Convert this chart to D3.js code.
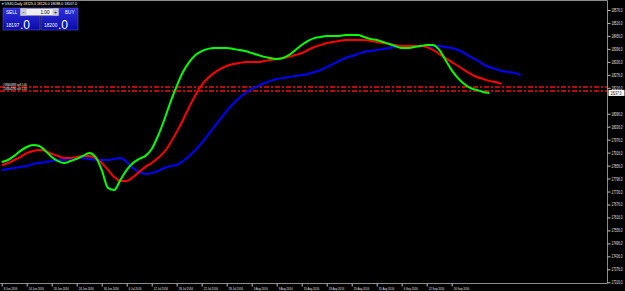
<!DOCTYPE html>
<html>
<head>
<meta charset="utf-8">
<script src="https://cdnjs.cloudflare.com/ajax/libs/d3/7.8.5/d3.min.js"></script>
<style>
  body { margin: 0; background: #000; }
  svg { display: block; font-family: "Liberation Sans", sans-serif; }
</style>
</head>
<body>
<div id="chart"></div>
<script>
// Alligator lines (jaw / teeth / lips), one value per daily bar, shifted forward 8 / 5 / 3 bars
var jaw = [17836, 17840, 17845, 17850, 17854, 17864, 17868, 17873, 17877, 17882,
    17882, 17887, 17891, 17891, 17887, 17882, 17882, 17882, 17887, 17891,
    17873, 17845, 17827, 17817, 17822, 17831, 17845, 17854, 17859, 17877,
    17901, 17928, 17961, 17998, 18035, 18072, 18109, 18141, 18169, 18192,
    18211, 18224, 18238, 18248, 18257, 18261, 18266, 18271, 18275, 18280,
    18289, 18298, 18312, 18326, 18340, 18354, 18363, 18373, 18382, 18386,
    18391, 18396, 18400, 18405, 18405, 18409, 18409, 18409, 18409, 18409,
    18409, 18405, 18400, 18391, 18377, 18359, 18345, 18326, 18312, 18303,
    18294, 18289, 18285, 18275];
var teeth = [17859, 17868, 17882, 17896, 17914, 17924, 17928, 17924, 17910, 17901,
    17891, 17891, 17896, 17901, 17901, 17891, 17868, 17836, 17803, 17785,
    17785, 17803, 17827, 17850, 17868, 17891, 17919, 17961, 18012, 18067,
    18127, 18183, 18229, 18261, 18285, 18303, 18317, 18326, 18331, 18335,
    18335, 18335, 18340, 18345, 18349, 18354, 18359, 18368, 18377, 18391,
    18405, 18414, 18423, 18428, 18433, 18437, 18437, 18437, 18437, 18433,
    18428, 18423, 18419, 18414, 18409, 18409, 18409, 18409, 18405, 18391,
    18373, 18354, 18335, 18317, 18298, 18280, 18266, 18257, 18248, 18243,
    18234];
var lips = [17873, 17882, 17901, 17924, 17942, 17951, 17947, 17924, 17896, 17877,
    17868, 17877, 17887, 17901, 17914, 17896, 17836, 17753, 17743, 17790,
    17836, 17868, 17887, 17901, 17933, 17993, 18067, 18150, 18224, 18289,
    18335, 18368, 18386, 18396, 18400, 18400, 18400, 18396, 18391, 18386,
    18377, 18368, 18359, 18354, 18349, 18354, 18368, 18391, 18414, 18433,
    18446, 18451, 18456, 18456, 18456, 18460, 18460, 18460, 18451, 18442,
    18437, 18428, 18419, 18409, 18400, 18400, 18405, 18409, 18414, 18414,
    18391, 18345, 18298, 18261, 18234, 18215, 18206, 18197, 18192];

var dateLabels = ['8 Jun 2016', '14 Jun 2016', '20 Jun 2016', '24 Jun 2016', '30 Jun 2016',
    '6 Jul 2016', '12 Jul 2016', '18 Jul 2016', '22 Jul 2016', '28 Jul 2016',
    '3 Aug 2016', '9 Aug 2016', '15 Aug 2016', '19 Aug 2016', '25 Aug 2016',
    '31 Aug 2016', '6 Sep 2016', '12 Sep 2016', '16 Sep 2016'];
var dateEvery = 4; // one label every 4 bars

var priceTicks = [18576, 18516, 18456, 18396, 18336, 18276, 18216, 18096, 18036, 17976,
    17916, 17856, 17796, 17736, 17676, 17616, 17556, 17496, 17436, 17376, 17316];

var bid = 18197, ask = 18200;
var orderPrices = [18220, 18201];
var orderLabels = ['#18504393 sell 1.00', '#18504290 sell 1.00'];
var header = 'US30,Daily  18125.0 18126.0 18098.0 18107.0';

var W = 625, H = 291;
var plotRight = 607.5, plotBottom = 283.5;
var squeeze = 0.66; // terminal font is much narrower than the installed ones

var svg = d3.select('#chart').append('svg').attr('width', W).attr('height', H);
svg.append('rect').attr('width', W).attr('height', H).attr('fill', '#000');

var x = d3.scaleLinear().domain([0, 1]).range([1.7, 7.95]);
var y = d3.scaleLinear().domain([17316, 18576]).range([282.3, 10]);

// frame
svg.append('path')
    .attr('d', `M0,0.5 H${plotRight} V${plotBottom} H0`)
    .attr('fill', 'none')
    .attr('stroke', '#8c8c8c')
    .attr('stroke-width', 1);

// right price axis
var yAxis = svg.append('g')
    .attr('transform', `translate(${plotRight},0)`)
    .call(d3.axisRight(y).tickValues(priceTicks).tickSize(3)
        .tickFormat(d => d.toFixed(1)));
yAxis.select('.domain').remove();
yAxis.selectAll('line').attr('stroke', '#c0c0c0');
yAxis.selectAll('text')
    .attr('x', 0)
    .attr('transform', `translate(4,0) scale(${squeeze},1)`)
    .attr('fill', '#e0e0e0')
    .attr('font-size', 4.6)
    .attr('font-family', 'Liberation Sans');

// bottom date axis
var xAxis = svg.append('g')
    .attr('transform', `translate(0,${plotBottom})`)
    .call(d3.axisBottom(x).tickValues(dateLabels.map((d, i) => i * dateEvery))
        .tickSize(3).tickFormat((d, i) => dateLabels[i]));
xAxis.select('.domain').remove();
xAxis.selectAll('line').attr('stroke', '#c0c0c0');
xAxis.selectAll('text')
    .attr('x', 0)
    .attr('y', 0)
    .attr('dy', 0)
    .attr('transform', `translate(1.5,6.3) scale(${squeeze},1)`)
    .attr('fill', '#e0e0e0')
    .attr('font-size', 4.2)
    .attr('font-family', 'Liberation Sans')
    .attr('text-anchor', 'start');

// order lines
svg.selectAll('.order')
    .data(orderPrices)
    .enter()
    .append('line')
    .attr('class', 'order')
    .attr('x1', 0)
    .attr('x2', plotRight - 0.5)
    .attr('y1', d => Math.round(y(d)))
    .attr('y2', d => Math.round(y(d)))
    .attr('stroke', '#f01010')
    .attr('stroke-width', 1.4)
    .attr('stroke-dasharray', '5,2,2,2');

svg.selectAll('.orderLabel')
    .data(orderPrices)
    .enter()
    .append('text')
    .attr('transform', d => `translate(3,${y(d) - 1}) scale(${squeeze},1)`)
    .attr('fill', '#ffffff')
    .attr('font-size', 4)
    .text((d, i) => orderLabels[i]);

// alligator lines
var line = d3.line()
    .x((d, i) => x(i))
    .y(d => y(d))
    .curve(d3.curveMonotoneX);

var series = [
    { values: jaw, color: '#0000ff' },
    { values: teeth, color: '#ff0000' },
    { values: lips, color: '#00ff00' }
];

svg.selectAll('.ma')
    .data(series)
    .enter()
    .append('path')
    .attr('class', 'ma')
    .attr('d', s => line(s.values))
    .attr('fill', 'none')
    .attr('stroke', s => s.color)
    .attr('stroke-width', 2);

// bid label on the price axis
var by = y(bid);
svg.append('rect')
    .attr('x', plotRight + 1).attr('y', by - 2)
    .attr('width', 16).attr('height', 6)
    .attr('fill', '#ffffff');
svg.append('text')
    .attr('transform', `translate(${plotRight + 3},${by + 2.8}) scale(${squeeze},1)`)
    .attr('font-size', 4.6)
    .attr('fill', '#000')
    .text(bid.toFixed(1));

// header
svg.append('text')
    .attr('transform', 'translate(2,5) scale(0.8,1)')
    .attr('font-size', 4.4)
    .attr('fill', '#ffffff')
    .text('\u25BE ' + header);

// one-click trading panel
var grad = svg.append('defs').append('linearGradient')
    .attr('id', 'btn').attr('x1', 0).attr('x2', 0).attr('y1', 0).attr('y2', 1);
grad.append('stop').attr('offset', '0%').attr('stop-color', '#3030e0');
grad.append('stop').attr('offset', '100%').attr('stop-color', '#0a0aa8');

var panel = svg.append('g');
[[3, 'SELL', bid], [41, 'BUY', ask]].forEach(function (b) {
    panel.append('rect')
        .attr('x', b[0]).attr('y', 8)
        .attr('width', 37).attr('height', 22)
        .attr('fill', 'url(#btn)')
        .attr('stroke', '#5a5aff').attr('stroke-width', 0.5);
    panel.append('text')
        .attr('x', b[1] === 'SELL' ? b[0] + 3 : b[0] + 24).attr('y', 14)
        .attr('font-size', 4.6).attr('fill', '#ffffff')
        .text(b[1]);
    var whole = Math.floor(b[2]);
    panel.append('text')
        .attr('x', b[0] + 3).attr('y', 27)
        .attr('font-size', 4.8).attr('fill', '#ffffff')
        .text(whole);
    panel.append('text')
        .attr('x', b[0] + 17).attr('y', 28.5)
        .attr('font-size', 12).attr('fill', '#ffffff')
        .text('.' + Math.round((b[2] - whole) * 10));
});

// lot box
panel.append('rect').attr('x', 20.5).attr('y', 8.5).attr('width', 38).attr('height', 7)
    .attr('fill', '#f0f0f0').attr('stroke', '#9090b0').attr('stroke-width', 0.5);
panel.append('rect').attr('x', 20.5).attr('y', 8.5).attr('width', 6).attr('height', 7)
    .attr('fill', '#c8c8d8');
panel.append('rect').attr('x', 52.5).attr('y', 8.5).attr('width', 6).attr('height', 7)
    .attr('fill', '#c8c8d8');
panel.append('text').attr('x', 23.5).attr('y', 13.8).attr('text-anchor', 'middle')
    .attr('font-size', 5).attr('fill', '#000').text('-');
panel.append('text').attr('x', 55.5).attr('y', 14).attr('text-anchor', 'middle')
    .attr('font-size', 5).attr('fill', '#000').text('+');
panel.append('text').attr('x', 45).attr('y', 13.8).attr('text-anchor', 'middle')
    .attr('font-size', 4.6).attr('fill', '#000').text('1.00');
</script>
</body>
</html>
